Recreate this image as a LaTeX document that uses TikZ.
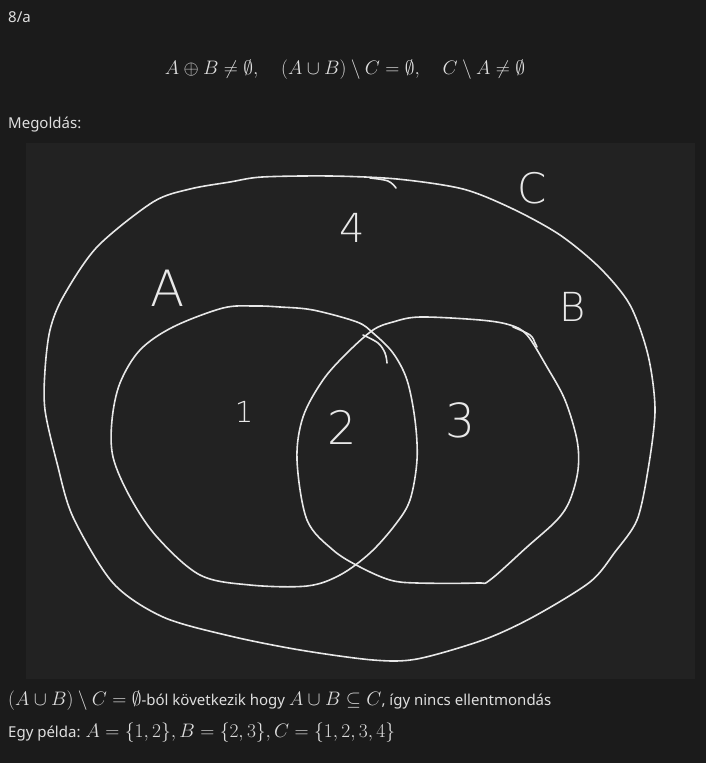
\RequirePackage{fix-cm}
\documentclass[tikz,border=0pt]{standalone}
\usepackage[no-math]{fontspec}
\setmainfont{Noto Sans}
\newfontfamily\hand[Extension=.ttf]{DejaVuSans-ExtraLight}
\definecolor{bg}{HTML}{1B1B1B}
\definecolor{panel}{HTML}{222222}
\definecolor{ink}{HTML}{E8E8E8}
\definecolor{txt}{HTML}{DEDEDE}
\newcommand\mth[1]{{\fontsize{19.5}{23}\selectfont$#1$}}
\tikzset{
  stroke/.style={draw=ink, line width=1.6pt, line cap=round, line join=round},
  txtnode/.style={text=txt, inner sep=0pt, font=\fontsize{15}{18}\selectfont},
  handlbl/.style={text=ink, inner sep=0pt, anchor=center},
}
\begin{document}
\begin{tikzpicture}[x=1pt,y=-1pt]
\fill[bg] (0,0) rectangle (706,763);
\useasboundingbox (0,0) rectangle (706,763);
\fill[panel] (26,143) rectangle (695,679);

% texts
\node[txtnode, anchor=base west] (title) at (8,22) {8/a};
\node[txtnode, anchor=base] (formula) at (345,74) {\mth{A\oplus B\neq\emptyset,\quad (A\cup B)\setminus C=\emptyset,\quad C\setminus A\neq\emptyset}};
\node[txtnode, anchor=base west] (meg) at (8,128) {Megoldás:};
\node[txtnode, anchor=base west] (line1) at (8,705) {\mth{(A\cup B)\setminus C=\emptyset}-ból következik hogy \mth{A\cup B\subseteq C}, így nincs ellentmondás};
\node[txtnode, anchor=base west] (line2) at (8,737) {Egy példa: \mth{A=\{1,2\},B=\{2,3\},C=\{1,2,3,4\}}};

% set C
\draw[stroke] plot[smooth cycle, tension=0.5] coordinates {
 (230,182) (262,177) (330,176) (397,179) (463,189) (513,209) (560,235)
 (600,268) (630,305) (648,355) (655,410) (648,470) (637,520) (615,552)
 (590,582) (533,617) (483,640) (417,659) (373,660) (300,650) (230,636)
 (163,617) (113,583) (73,517) (57,463) (45,410) (45,370) (50,330)
 (63,297) (97,247) (153,202) (190,189)};
\draw[stroke] plot[smooth, tension=0.6] coordinates {(370,178) (388,181) (396,188)};

% set A
\draw[stroke] plot[smooth cycle, tension=0.55] coordinates {
 (140,350) (173,327) (223,308) (255,306) (280,307) (313,310) (357,322)
 (373,333) (393,353) (407,380) (415,420) (417,460) (410,500) (395,525)
 (370,553) (340,575) (307,586) (250,585) (200,575) (157,537) (130,497)
 (113,457) (112,420) (120,383)};
\draw[stroke] plot[smooth, tension=0.6] coordinates {(363,335) (378,343) (385,353) (387,363)};

% set B
\draw[stroke] plot[smooth cycle, tension=0.55] coordinates {
 (323,380) (347,353) (373,330) (393,322) (420,317) (480,320) (510,325)
 (527,335) (547,367) (565,400) (577,440) (578,470) (570,500) (557,520)
 (527,547) (490,580) (477,583) (417,583) (390,580) (360,567) (333,550)
 (307,520) (297,460) (303,417)};
\draw[stroke] plot[smooth, tension=0.6] coordinates {(513,327) (530,335) (535,343) (537,347)};

% hand labels
\node[handlbl, font=\hand\fontsize{50}{50}\selectfont] (lA) at (168,288) {A};
\node[handlbl, font=\hand\fontsize{40}{40}\selectfont] (lB) at (573,307) {B};
\node[handlbl, font=\hand\fontsize{42}{42}\selectfont] (lC) at (532,188) {C};
\node[handlbl, font=\hand\fontsize{40}{40}\selectfont] (l4) at (352,228) {4};
\node[handlbl, font=\hand\fontsize{29}{29}\selectfont] (l1) at (244,412) {1};
\node[handlbl, font=\hand\fontsize{46}{46}\selectfont] (l2) at (342,427) {2};
\node[handlbl, font=\hand\fontsize{47}{47}\selectfont] (l3) at (460,420) {3};
\end{tikzpicture}
\end{document}
